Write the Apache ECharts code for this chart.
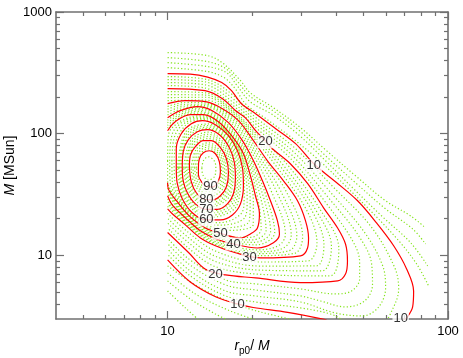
<!DOCTYPE html>
<html>
<head>
<meta charset="utf-8">
<script src="https://cdn.jsdelivr.net/npm/echarts@6/dist/echarts.min.js"></script>
<style>
  html, body { margin: 0; padding: 0; background: #fff; }
  #main { width: 463px; height: 358px; }
</style>
</head>
<body>
<div id="main"></div>
<script>
// axis ticks
const xMajor = [10, 100];
const xMinor = [5, 6, 7, 8, 9, 20, 30, 40, 50, 60, 70, 80, 90];
const yMajor = [10, 100, 1000];
const yMinor = [4, 5, 6, 7, 8, 9, 20, 30, 40, 50, 60, 70, 80, 90, 200, 300, 400, 500, 600, 700, 800, 900];

// red contours (levels 10..90), points are [r_p0/M, M]
const c10a = [[10, 312], [12.05, 309], [13.9, 292], [15.6, 263], [16.9, 226], [18.3, 177], [20.6, 146], [24.3, 110], [28.6, 82.8], [33.2, 56.6], [39.7, 40.3], [47.6, 28.1], [55.6, 18.5], [64.0, 12.0], [71.2, 7.74], [75.4, 5.10], [74.8, 3.77], [71.2, 3.06], [68.9, 2.9]];
const c10b = [[10, 9.18], [12.05, 6.05], [14.9, 4.55], [17.75, 3.99], [20.2, 3.73], [26.8, 3.40], [36.9, 2.95]];
const c20 = [[10, 235], [13.6, 226], [15.7, 194], [17.45, 155], [18.95, 135], [20.6, 106], [22.3, 87.6], [23.65, 75.2], [27.4, 56.6], [31.6, 38.8], [36.0, 24.6], [40.4, 16.8], [43.1, 12.4], [43.8, 9.01], [43.1, 7.04], [40.4, 6.17], [29.8, 5.97], [20.6, 6.53], [16.1, 6.91], [13.6, 7.74], [11.9, 10.5], [10, 15.4]];
const c30 = [[10, 176.6], [11.57, 186.9], [13.64, 183.4], [15.69, 160.6], [17.89, 127.9], [20.24, 87.6], [22.71, 59.9], [25.9, 41.0], [29.06, 28.1], [31.04, 19.2], [31.82, 13.9], [31.56, 11.5], [29.79, 9.91], [21.43, 9.54], [17.45, 10.5], [14.81, 12.0], [13.09, 13.9], [11.57, 17.8], [10.39, 22.0], [10, 24.1]];
const c40 = [[10, 135.4], [11.1, 154.6], [12.77, 166.8], [14.44, 154.6], [16.48, 123.2], [18.49, 87.6], [20.24, 59.9], [21.79, 41.0], [23.27, 28.1], [24.65, 19.2], [25.06, 15.0], [23.84, 12.7], [20.91, 11.5], [17.17, 12.4], [14.81, 13.7], [13.09, 15.9], [11.57, 20.4], [10.39, 26.0], [10, 30.9]];
const c50 = [[10, 105.8], [10.65, 125.5], [12.05, 143.3], [13.41, 143.3], [15.18, 125.5], [17.03, 94.5], [18.64, 68.4], [19.74, 45.1], [20.57, 30.9], [21.26, 22.0], [20.91, 16.8], [19.74, 15.0], [18.19, 13.9], [15.43, 15.2], [13.64, 16.8], [12.05, 20.7], [10.83, 27.6], [10.06, 35.2], [10, 39.5]];
const c60 = [[10.74, 52.5], [10.74, 75.2], [11.19, 100], [12.15, 120.9], [13.31, 127.9], [14.81, 118.6], [16.48, 96.3], [17.75, 72.4], [18.49, 52.5], [18.64, 37.3], [18.19, 26.5], [17.03, 21.5], [15.43, 19.6], [13.64, 19.6], [12.25, 22.4], [11.28, 29.2], [10.83, 38.8], [10.74, 52.5]];
const c70 = [[11.28, 52.5], [11.37, 71.1], [11.86, 89.3], [12.77, 103.9], [13.86, 107.9], [15.3, 98.1], [16.61, 76.7], [17.31, 57.7], [17.45, 42.6], [17.17, 32.1], [16.34, 26.5], [15.05, 23.9], [13.75, 23.9], [12.56, 26.5], [11.76, 32.7], [11.37, 41.0], [11.28, 52.5]];
const c80 = [[11.96, 52.5], [12.05, 65.9], [12.56, 78.2], [13.41, 87.6], [14.33, 87.6], [15.43, 76.7], [16.21, 62.3], [16.48, 47.8], [16.21, 36.6], [15.43, 30.9], [14.44, 28.6], [13.53, 28.9], [12.66, 32.7], [12.15, 40.3], [11.96, 52.5]];
const c90 = [[12.88, 52.5], [12.98, 62.3], [13.41, 69.8], [14.09, 72.4], [14.81, 68.4], [15.3, 58.8], [15.43, 48.7], [15.18, 41.0], [14.56, 36.6], [13.86, 36.6], [13.2, 40.3], [12.88, 46.0], [12.88, 52.5]];

// green dotted contours (levels between the red ones)
const g2 = [[10, 464], [13.9, 438], [15.8, 377], [18.2, 273], [19.7, 217], [23.8, 164], [29.8, 112], [36.9, 72.4], [46.8, 45.1], [59.9, 28.1], [73.6, 21.1], [83.2, 16.8]];
const g4 = [[10, 422], [13.9, 391], [16.1, 343], [17.9, 263], [19.7, 202], [23.7, 155], [29.8, 104], [36.9, 64.7], [46.8, 39.5], [59.9, 24.1], [74.8, 16.5], [83.2, 12.4]];
const g6 = [[10, 384], [13.9, 356], [16.2, 318], [17.6, 253], [19.7, 183], [23.7, 143], [29.3, 98.1], [36.6, 59.9], [45.7, 35.9], [58.5, 20.7], [73.6, 12.7], [84.6, 8.2]];
const g8 = [[10, 349], [13.9, 324], [15.9, 289], [17.3, 239], [19.1, 173], [22.2, 135], [27.4, 94.5], [34.5, 61.1], [43.1, 37.3], [53.8, 22.4], [66.7, 13.2], [77.3, 8.5], [85.3, 5.6]];
const g2b = [[10, 5.10], [11.57, 3.70], [13.09, 2.87]];
const g4b = [[10, 6.17], [12.05, 4.38], [14.81, 3.30], [16.75, 2.87]];
const g6b = [[10, 7.18], [12.56, 4.82], [16.75, 3.49], [21.43, 2.87]];
const g8b = [[10, 8.2], [13.09, 5.4], [18.19, 3.84], [25.27, 3.12], [29.8, 2.87]];
const g12 = [[10, 294.6], [13.86, 278.3], [17.03, 209.4], [20.57, 136.7], [28.35, 76.7], [38.9, 36.6], [53.2, 17.2], [64.5, 7.97], [66.7, 5.30], [63.5, 3.63], [58.5, 2.84], [44.9, 2.84], [38.1, 3.30], [29.8, 3.70], [20.6, 4.14], [16.1, 4.64], [12.05, 6.78], [10, 10.2]];
const g14 = [[10, 278.3], [13.75, 265.5], [17.1, 194.1], [20.57, 127.9], [28.1, 71.1], [38.1, 33.0], [50.4, 15.45], [58.5, 8.20], [59.9, 5.40], [56.6, 3.77], [49.6, 3.18], [39.7, 3.36], [29.8, 4.14], [20.6, 4.64], [16.1, 5.10], [11.96, 7.54], [10, 11.3]];
const g16 = [[10, 263], [13.75, 251], [17.17, 179.9], [20.57, 120.9], [27.9, 65.9], [37.5, 29.7], [48.0, 14.5], [53.4, 8.51], [53.8, 5.72], [50.4, 4.22], [43.1, 3.77], [35.1, 4.22], [29.8, 4.64], [20.6, 5.20], [16.1, 5.72], [11.96, 8.41], [10, 12.5]];
const g18 = [[10, 248.4], [13.64, 237], [17.31, 166.8], [20.57, 113.1], [27.7, 61.1], [36.7, 27.0], [45.5, 13.4], [48.4, 8.76], [48.4, 6.41], [45.3, 5.10], [39.7, 4.82], [29.8, 5.30], [20.6, 5.83], [16.1, 6.29], [11.86, 9.40], [10, 13.85]];
const g22 = [[10, 221.6], [13.64, 216.7], [17.45, 150.3], [21.08, 95.9], [26.7, 55.8], [34.8, 24.3], [40.8, 11.3], [37.9, 6.78], [21.43, 6.99], [14.81, 8.07], [11.86, 11.5], [10, 16.8]];
const g24 = [[10, 209.4], [13.64, 207.8], [17.45, 145.8], [20.74, 95.6], [25.8, 55.4], [33.6, 24.0], [38.4, 11.8], [35.5, 7.46], [21.43, 7.56], [14.81, 8.91], [11.86, 12.75], [10, 18.45]];
const g26 = [[10, 197.8], [13.64, 199.3], [17.45, 141.7], [20.4, 95.2], [25.1, 54.8], [32.5, 23.9], [36.1, 12.2], [33.9, 8.20], [21.43, 8.17], [14.81, 9.83], [11.86, 14.0], [10, 20.2]];
const g28 = [[10, 186.9], [13.64, 189.0], [17.45, 137.0], [20.07, 94.9], [24.4, 54.2], [31.3, 23.6], [34.1, 12.7], [31.7, 9.01], [21.43, 8.82], [14.81, 10.85], [11.86, 15.45], [10, 22.1]];
const g32 = [[10, 167.4], [11.57, 180.6], [13.64, 178.9], [17.6, 126.9], [20.98, 72.7], [26.4, 33.9], [30.3, 14.1], [28.4, 10.4], [20.91, 9.95], [14.81, 12.3], [12.05, 16.85], [10, 25.3]];
const g34 = [[10, 158.8], [11.57, 174.6], [13.64, 174.6], [17.31, 126.0], [20.5, 73.0], [25.3, 33.9], [28.9, 14.3], [27.2, 10.95], [20.91, 10.35], [14.81, 12.6], [12.05, 17.3], [10, 26.6]];
const g36 = [[10, 150.5], [11.57, 168.7], [13.64, 170.0], [17.03, 125.0], [20.1, 73.3], [24.4, 33.9], [27.6, 14.6], [25.9, 11.5], [20.91, 10.7], [14.81, 13.0], [12.05, 17.7], [10, 27.7]];
const g38 = [[10, 142.5], [11.57, 163.1], [13.64, 165.8], [16.75, 124.1], [19.7, 73.5], [23.4, 33.9], [26.3, 14.8], [24.9, 12.05], [20.91, 11.1], [14.81, 13.4], [12.05, 18.2], [10, 29.2]];
const g42 = [[10, 128.9], [11.1, 150.6], [12.77, 161.8], [14.44, 150.9], [17.2, 104.4], [19.97, 59.9], [22.75, 28.1], [24.1, 15.4], [20.8, 12.2], [16.07, 13.3], [13.09, 16.3], [11.1, 22.8], [10, 32.4]];
const g44 = [[10, 122.7], [11.1, 144.7], [12.77, 157.0], [14.44, 145.8], [16.96, 105.0], [19.72, 59.9], [22.17, 28.1], [23.3, 15.7], [20.4, 12.8], [16.07, 13.6], [13.09, 16.7], [11.1, 23.5], [10, 34.0]];
const g46 = [[10, 116.8], [11.1, 140.1], [12.77, 152.3], [14.44, 141.4], [16.7, 105.4], [19.46, 59.9], [21.6, 28.1], [22.45, 16.0], [20.1, 13.4], [16.07, 14.0], [13.09, 17.2], [11.1, 24.2], [10, 35.8]];
const g48 = [[10, 111.3], [11.1, 135.4], [12.77, 147.8], [14.44, 137.5], [16.44, 106.0], [19.22, 59.9], [21.04, 28.1], [21.56, 16.4], [19.8, 14.05], [16.07, 14.35], [13.09, 17.6], [11.1, 25.0], [10, 37.6]];
const g52 = [[10.0, 59.9], [10.03, 87.6], [10.31, 110.0], [12.05, 137.2], [13.41, 140.1], [15.18, 123.2], [18.22, 72.4], [19.5, 45.1], [20.22, 28.1], [20.2, 18.0], [15.43, 16.0], [13.64, 17.4], [12.05, 21.2], [10.92, 27.9], [10.0, 41.0], [10.0, 59.9]];
const g54 = [[10.17, 59.9], [10.27, 87.6], [10.64, 110.0], [12.05, 133.9], [13.41, 136.7], [15.18, 121.1], [18.1, 72.4], [19.26, 45.1], [19.7, 28.1], [19.55, 19.1], [15.43, 16.8], [13.64, 17.9], [12.05, 21.7], [11.01, 28.2], [10.2, 41.0], [10.17, 59.9]];
const g56 = [[10.36, 59.9], [10.5, 87.6], [10.96, 110.0], [12.05, 129.4], [13.41, 133.7], [15.18, 118.9], [17.97, 72.4], [19.0, 45.1], [19.22, 28.1], [18.86, 20.5], [15.43, 17.7], [13.64, 18.4], [12.05, 22.2], [11.1, 28.5], [10.4, 41.0], [10.36, 59.9]];
const g58 = [[10.55, 59.9], [10.74, 87.6], [11.31, 110.0], [12.05, 125.0], [13.41, 130.4], [15.18, 116.8], [17.86, 72.4], [18.78, 45.1], [18.75, 28.1], [18.22, 21.8], [15.43, 18.6], [13.64, 19.0], [12.05, 22.7], [11.19, 28.8], [10.61, 41.0], [10.55, 59.9]];
const g62 = [[10.85, 52.5], [11.62, 103.9], [13.98, 120.2], [16.78, 86.8], [18.26, 52.5], [17.69, 25.9], [13.98, 20.4], [11.47, 29.1], [10.85, 52.5]];
const g64 = [[10.96, 52.5], [11.71, 100.6], [13.98, 116.8], [16.66, 85.1], [18.02, 52.5], [17.46, 26.85], [13.98, 21.2], [11.57, 29.7], [10.96, 52.5]];
const g66 = [[11.06, 52.5], [11.82, 97.5], [13.98, 113.3], [16.55, 83.7], [17.8, 52.5], [17.26, 27.9], [13.98, 22.1], [11.66, 30.5], [11.06, 52.5]];
const g68 = [[11.17, 52.5], [11.92, 94.5], [13.98, 110.2], [16.45, 82.2], [17.56, 52.5], [17.05, 28.8], [13.98, 22.9], [11.76, 31.2], [11.17, 52.5]];
const g72 = [[11.41, 52.5], [12.12, 88.8], [13.98, 102.9], [16.21, 78.9], [17.15, 52.5], [16.68, 30.9], [13.98, 24.8], [11.97, 32.8], [11.41, 52.5]];
const g74 = [[11.55, 52.5], [12.23, 85.9], [13.98, 98.9], [16.07, 77.1], [16.96, 52.5], [16.5, 31.9], [13.98, 25.7], [12.06, 33.6], [11.55, 52.5]];
const g76 = [[11.68, 52.5], [12.33, 83.2], [13.98, 94.9], [15.94, 75.2], [16.76, 52.5], [16.34, 32.9], [13.98, 26.6], [12.17, 34.6], [11.68, 52.5]];
const g78 = [[11.82, 52.5], [12.45, 80.6], [13.98, 91.2], [15.81, 73.5], [16.57, 52.5], [16.17, 33.8], [13.98, 27.7], [12.27, 35.5], [11.82, 52.5]];
const g82 = [[12.13, 52.5], [12.68, 75.2], [13.98, 84.1], [15.56, 70.3], [16.18, 52.5], [15.83, 36.1], [13.98, 30.2], [12.52, 37.6], [12.13, 52.5]];
const g84 = [[12.31, 52.5], [12.8, 72.7], [13.98, 81.0], [15.43, 68.5], [15.97, 52.5], [15.65, 37.3], [13.98, 31.7], [12.64, 38.9], [12.31, 52.5]];
const g86 = [[12.5, 52.5], [12.92, 70.2], [13.98, 77.9], [15.3, 67.1], [15.77, 52.5], [15.49, 38.6], [13.98, 33.2], [12.78, 40.1], [12.5, 52.5]];
const g88 = [[12.68, 52.5], [13.05, 67.8], [13.98, 74.9], [15.18, 65.4], [15.57, 52.5], [15.32, 39.9], [13.98, 34.8], [12.9, 41.3], [12.68, 52.5]];
const g92 = [[13.25, 52.5], [13.45, 60.5], [13.98, 64.6], [14.67, 59.7], [14.86, 52.5], [14.73, 44.8], [13.98, 41.5], [13.36, 45.9], [13.25, 52.5]];

// contour labels: [r, M, text]
const labels = [
  [14.21, 36.6, '90'], [13.75, 28.9, '80'], [13.75, 23.9, '70'], [13.75, 19.6, '60'],
  [15.43, 15.2, '50'], [17.17, 12.4, '40'], [19.58, 9.54, '30'], [14.81, 7.0, '20'],
  [17.75, 3.95, '10'], [22.34, 85.9, '20'], [33.2, 54.5, '10'], [67.8, 3.05, '10']
];

const redLines = [c10a, c10b, c20, c30, c40, c50, c60, c70, c80, c90];
const greenLines = [g2, g4, g6, g8, g2b, g4b, g6b, g8b, g12, g14, g16, g18, g22, g24, g26, g28,
  g32, g34, g36, g38, g42, g44, g46, g48, g52, g54, g56, g58, g62, g64, g66, g68,
  g72, g74, g76, g78, g82, g84, g86, g88, g92];

const font = 'Liberation Sans, Arial, Helvetica, sans-serif';
const axisColor = '#707070';

function makeAxis(position, min, max, ticks, len, opts) {
  return Object.assign({
    type: 'log',
    logBase: 10,
    position: position,
    min: min,
    max: max,
    gridIndex: 0,
    axisLine: { show: true, onZero: false, lineStyle: { color: axisColor, width: 1.6 } },
    axisTick: { show: true, inside: true, length: len, customValues: ticks, lineStyle: { color: axisColor, width: 1.2 } },
    axisLabel: { show: false },
    splitLine: { show: false },
    minorTick: { show: false }
  }, opts || {});
}

const tickLabel = {
  show: true, color: '#000', fontFamily: font, fontSize: 13,
  formatter: function(v) { return String(Math.round(v)); }
};

let myChart = echarts.init(document.getElementById('main'));

let series = [];
greenLines.forEach(function(pts) {
  series.push({
    type: 'line', data: pts, showSymbol: false, smooth: 0.35, silent: true, z: 2,
    lineStyle: { color: '#84e41c', width: 1.2, type: [1.2, 2.2] }
  });
});
redLines.forEach(function(pts) {
  series.push({
    type: 'line', data: pts, showSymbol: false, smooth: 0.35, silent: true, z: 3,
    lineStyle: { color: '#ff0000', width: 1.2 }
  });
});
series.push({
  type: 'scatter', symbolSize: 0, z: 5, silent: true,
  data: labels.map(function(d) { return { value: [d[0], d[1]], name: d[2] }; }),
  label: {
    show: true, position: 'inside', formatter: '{b}', color: '#000',
    fontFamily: font, fontSize: 13, backgroundColor: '#fff', padding: [0, 1]
  }
});

const gridBox = { left: 56, top: 12, right: 15, bottom: 39, containLabel: false, outerBoundsMode: 'none' };

let option = {
  animation: false,
  grid: [Object.assign({}, gridBox), Object.assign({}, gridBox)],
  xAxis: [
    makeAxis('bottom', 4, 100, xMajor, 8, {
      axisLabel: Object.assign({ customValues: xMajor, margin: 6 }, tickLabel),
      name: '{i|r}{s|p0}/ {i|M}',
      nameLocation: 'middle',
      nameGap: 17,
      nameMoveOverlap: false,
      nameTextStyle: {
        color: '#000', fontFamily: font, fontSize: 14,
        rich: {
          i: { fontStyle: 'italic', fontFamily: font, fontSize: 14, color: '#000' },
          s: { fontFamily: font, fontSize: 10, color: '#000', padding: [10, 0, 0, 0] }
        }
      }
    }),
    makeAxis('top', 4, 100, xMajor, 8),
    makeAxis('bottom', 4, 100, xMinor, 4, { gridIndex: 1, axisLine: { show: false } }),
    makeAxis('top', 4, 100, xMinor, 4, { gridIndex: 1, axisLine: { show: false } })
  ],
  yAxis: [
    makeAxis('left', 3, 1000, yMajor, 8, {
      axisLabel: Object.assign({ customValues: yMajor, margin: 4 }, tickLabel),
      name: '{i|M} [MSun]',
      nameLocation: 'middle',
      nameGap: 39,
      nameMoveOverlap: false,
      nameTextStyle: {
        color: '#000', fontFamily: font, fontSize: 14,
        rich: {
          i: { fontStyle: 'italic', fontFamily: font, fontSize: 14, color: '#000' }
        }
      }
    }),
    makeAxis('right', 3, 1000, yMajor, 8),
    makeAxis('left', 3, 1000, yMinor, 4, { gridIndex: 1, axisLine: { show: false } }),
    makeAxis('right', 3, 1000, yMinor, 4, { gridIndex: 1, axisLine: { show: false } })
  ],
  series: series.map(function(s) { return Object.assign({ xAxisIndex: 0, yAxisIndex: 0, clip: true }, s); })
};
myChart.setOption(option);
</script>
</body>
</html>
